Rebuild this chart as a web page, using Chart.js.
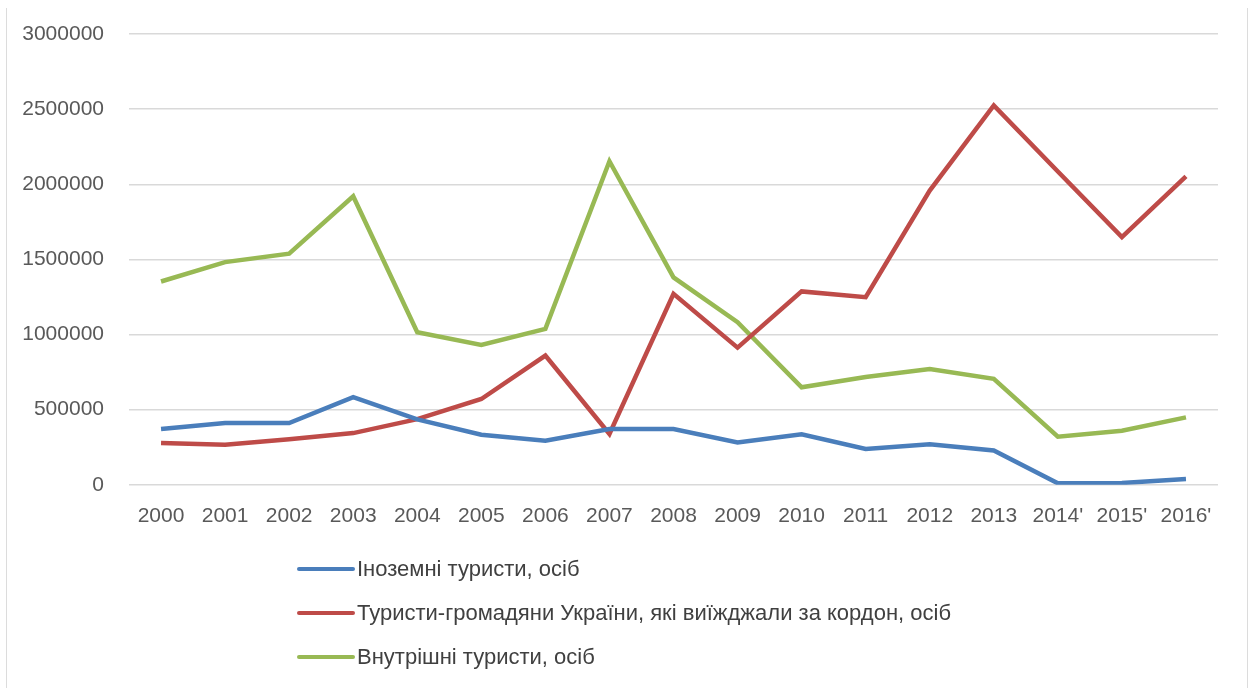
<!DOCTYPE html>
<html>
<head>
<meta charset="utf-8">
<script src="https://cdn.jsdelivr.net/npm/chart.js@4/dist/chart.umd.min.js"></script>
<style>
  html, body { margin: 0; padding: 0; background: #fff; }
  #wrap { position: relative; width: 1251px; height: 688px; overflow: hidden; }
  #frame { position: absolute; left: 6px; top: 8px; width: 1240px; height: 690px;
           border-left: 1.5px solid #dcdcdc; border-right: 1.5px solid #dcdcdc; }
  #legend { position: absolute; left: 297px; top: 547px; font-family: "Liberation Sans", Arial, sans-serif;
            font-size: 22px; color: #404040; }
  #legend .row { height: 44px; display: flex; align-items: center; }
  #legend .sw { width: 58px; height: 4px; border-radius: 2px; margin-right: 2px; }
</style>
</head>
<body>
<div id="wrap">
  <div id="frame"></div>
  <canvas id="tour"></canvas>
  <div id="legend"></div>
</div>
<script>
var years = ["2000","2001","2002","2003","2004","2005","2006","2007","2008","2009","2010","2011","2012","2013","2014'","2015'","2016'"];

// Іноземні туристи
var foreign = [372000, 411000, 411000, 583000, 435000, 333000, 293000, 371000, 371000, 282000, 336000, 238000, 270000, 228000, 10000, 12000, 38000];
// Туристи-громадяни України, які виїжджали за кордон
var outbound = [278000, 267000, 303000, 344000, 437000, 571000, 860000, 338000, 1271000, 913000, 1287000, 1249000, 1958000, 2525000, 2085000, 1648000, 2053000];
// Внутрішні туристи
var domestic = [1353000, 1482000, 1538000, 1920000, 1015000, 931000, 1038000, 2153000, 1380000, 1082000, 649000, 718000, 771000, 705000, 320000, 360000, 449000];

var yTicks = [0, 500000, 1000000, 1500000, 2000000, 2500000, 3000000];

var seriesNames = ["Іноземні туристи, осіб", "Туристи-громадяни України, які виїжджали за кордон, осіб", "Внутрішні туристи, осіб"];
var colors = ["#4a7ebb", "#be4b48", "#98b954"];

var font = "'Liberation Sans', Arial, sans-serif";

var mkSet = function(i, data) {
  return {
    label: seriesNames[i],
    data: data,
    borderColor: colors[i],
    backgroundColor: colors[i],
    borderWidth: 4.5,
    pointRadius: 0,
    fill: false,
    tension: 0
  };
};

var chart = new Chart(document.getElementById("tour"), {
  type: "line",
  data: {
    labels: years,
    datasets: [mkSet(0, foreign), mkSet(1, outbound), mkSet(2, domestic)]
  },
  options: {
    responsive: true,
    maintainAspectRatio: false,
    animation: false,
    layout: { padding: { top: 34, left: 10, right: 33, bottom: 140 } },
    plugins: {
      legend: { display: false },
      tooltip: { enabled: false }
    },
    scales: {
      x: {
        offset: true,
        grid: { display: false, drawTicks: false },
        border: { display: false },
        ticks: { color: "#595959", font: { family: font, size: 21 }, padding: 19, maxRotation: 0, autoSkip: false }
      },
      y: {
        min: 0,
        max: 3000000,
        afterBuildTicks: function(s) { s.ticks = yTicks.map(function(v) { return { value: v }; }); },
        afterFit: function(s) { s.width = 119; },
        // invisible tick marks keep the labels away from the grid
        grid: { color: "#d9d9d9", lineWidth: 1.5, drawTicks: true, tickLength: 22, tickColor: "rgba(0,0,0,0)" },
        border: { display: false },
        ticks: { color: "#595959", font: { family: font, size: 21 }, padding: 3,
                 callback: function(v) { return String(v); } }
      }
    }
  }
});

// legend below, one series per row
var lg = document.getElementById("legend");
chart.data.datasets.forEach(function(ds) {
  var row = document.createElement("div");
  row.className = "row";
  var sw = document.createElement("span");
  sw.className = "sw";
  sw.style.background = ds.borderColor;
  var tx = document.createElement("span");
  tx.textContent = ds.label;
  row.appendChild(sw);
  row.appendChild(tx);
  lg.appendChild(row);
});
</script>
</body>
</html>
